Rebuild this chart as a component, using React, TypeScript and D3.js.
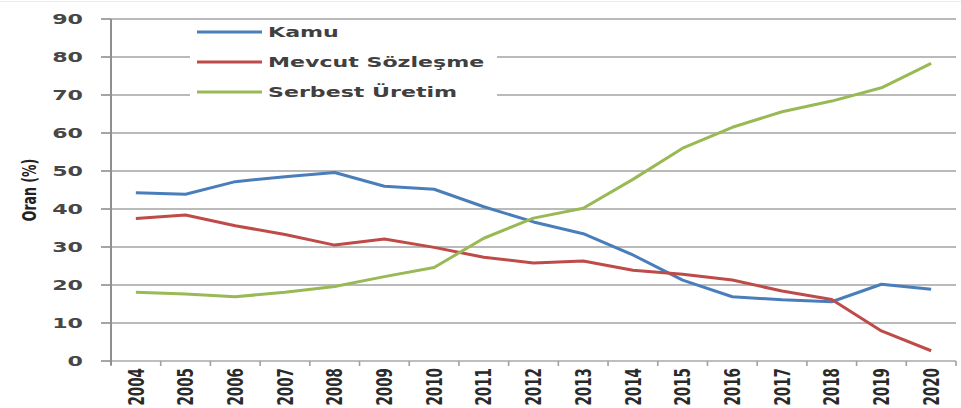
import React from "react";
import * as d3 from "d3";

const years = ["2004","2005","2006","2007","2008","2009","2010","2011","2012","2013","2014","2015","2016","2017","2018","2019","2020"];
const kamu = [44.3, 43.9, 47.2, 48.5, 49.6, 46.0, 45.2, 40.6, 36.6, 33.5, 27.9, 21.3, 16.9, 16.1, 15.6, 20.2, 18.9];
const mevcut = [37.5, 38.4, 35.6, 33.3, 30.5, 32.1, 29.9, 27.3, 25.8, 26.3, 23.9, 22.8, 21.3, 18.4, 16.2, 7.9, 2.7];
const serbest = [18.1, 17.6, 16.9, 18.1, 19.6, 22.2, 24.6, 32.3, 37.6, 40.2, 47.8, 56.0, 61.5, 65.6, 68.4, 71.9, 78.3];
const yTicks = [0, 10, 20, 30, 40, 50, 60, 70, 80, 90];
const seriesNames = ["Kamu", "Mevcut Sözleşme", "Serbest Üretim"];
const seriesColors = ["#4a7ebb", "#be4b48", "#98b954"];
const yTitle = "Oran (%)";

const W = 961, H = 408;
const SX = 1.58;
const FONT = "'DejaVu Sans', Verdana, sans-serif";

export default function App() {
  const left = 111, right = 956, top = 19, bottom = 361;
  const xb = d3.scaleBand<string>().domain(years).range([left, right]);
  const x = (yr: string) => (xb(yr) as number) + xb.bandwidth() / 2;
  const y = d3.scaleLinear().domain([0, 90]).range([bottom, top]);
  const line = d3.line<number>().x((_, i) => x(years[i])).y((d) => y(d));
  const all = [kamu, mevcut, serbest];
  const boundaries = years.map((yr) => xb(yr) as number).concat([right]);

  return (
    <svg width={W} height={H} style={{ position: "absolute", left: 0, top: 0, background: "#fff" }}>
      <rect x={0} y={0} width={W} height={H} fill="#fff" />
      <line x1={0} x2={W} y1={1.5} y2={1.5} stroke="#ececec" strokeWidth={1} />
      {yTicks.filter((t) => t > 0).map((t) => (
        <line key={t} x1={left} x2={right} y1={y(t)} y2={y(t)} stroke="#a3a3a3" strokeWidth={1.6} />
      ))}
      <rect x={190} y={24} width={307} height={84} fill="#fff" />
      <line x1={left} x2={right} y1={bottom} y2={bottom} stroke="#a8a8a8" strokeWidth={1.6} />
      {boundaries.map((bx, i) => (
        <line key={i} x1={bx} x2={bx} y1={bottom} y2={bottom + 5} stroke="#a0a0a0" strokeWidth={1.6} />
      ))}
      <line x1={left} x2={left} y1={top} y2={bottom + 4} stroke="#8f8f8f" strokeWidth={2} />
      {yTicks.map((t) => (
        <line key={t} x1={left - 10} x2={left} y1={y(t)} y2={y(t)} stroke="#8f8f8f" strokeWidth={1.6} />
      ))}
      {yTicks.map((t) => (
        <text key={t} transform={`translate(83,${y(t)}) scale(${SX},1)`} textAnchor="end" dy="0.36em"
          fontFamily={FONT} fontSize={14} fontWeight="bold" fill="#474747">{t}</text>
      ))}
      {years.map((yr) => (
        <text key={yr} transform={`translate(${x(yr)},368) scale(${SX},1) rotate(-90)`} textAnchor="end" dy="0.36em"
          fontFamily={FONT} fontSize={13.5} fontWeight="bold" fill="#2a2a2a">{yr}</text>
      ))}
      <text transform={`translate(29,190) scale(${SX},1) rotate(-90)`} textAnchor="middle" dy="0.36em"
        fontFamily={FONT} fontSize={12.5} fontWeight="bold" fill="#222">{yTitle}</text>
      {all.map((s, i) => (
        <path key={i} d={line(s) as string} fill="none" stroke={seriesColors[i]} strokeWidth={3} strokeLinejoin="round" />
      ))}
      {seriesNames.map((n, i) => (
        <g key={n}>
          <line x1={197} x2={262} y1={32 + i * 30} y2={32 + i * 30} stroke={seriesColors[i]} strokeWidth={3} />
          <text transform={`translate(268,${32 + i * 30}) scale(${SX},1)`} dy="0.36em"
            fontFamily={FONT} fontSize={14} fontWeight="bold" fill="#404040">{n}</text>
        </g>
      ))}
    </svg>
  );
}
